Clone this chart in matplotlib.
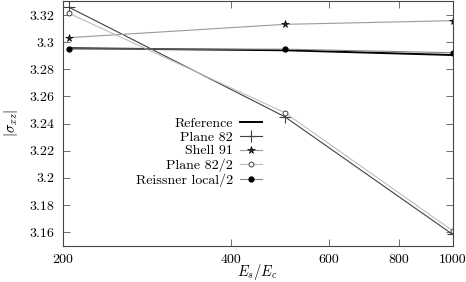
import matplotlib
matplotlib.use("Agg")
import matplotlib.pyplot as plt
from matplotlib.ticker import FixedLocator, FuncFormatter, NullLocator

plt.rcParams['font.family'] = 'serif'
plt.rcParams['font.serif'] = ['cmr10', 'DejaVu Serif']
plt.rcParams['mathtext.fontset'] = 'cm'
plt.rcParams['axes.formatter.use_mathtext'] = True

ratio = [205, 500, 1000]
reference = [3.2955, 3.2940, 3.2905]
plane82 = [3.3257, 3.2450, 3.1583]
shell91 = [3.3033, 3.3131, 3.3158]
plane82_2 = [3.3212, 3.2480, 3.1610]
reissner_2 = [3.2950, 3.2948, 3.2922]

xticks = [200, 400, 600, 800, 1000]
yticks = [3.16, 3.18, 3.20, 3.22, 3.24, 3.26, 3.28, 3.30, 3.32]

fig = plt.figure(figsize=(4.66, 2.82), dpi=100)
ax = fig.add_axes([63/466, 1-245.7/282, (452.7-63)/466, (245.7-1)/282])

ax.plot(ratio, reference, color='black', lw=1.4, label='Reference')
ax.plot(ratio, plane82, color='#404040', lw=0.8, marker='+', ms=9, mew=0.8, label='Plane 82')
ax.plot(ratio, shell91, color='#9a9a9a', lw=0.8, marker='*', ms=5.5, mew=0.5,
        mfc='#333333', mec='black', label='Shell 91')
ax.plot(ratio, plane82_2, color='#bdbdbd', lw=0.8, marker='o', ms=3.5,
        mfc='white', mec='#404040', mew=0.7, label='Plane 82/2')
ax.plot(ratio, reissner_2, color='#888888', lw=0.8, marker='o', ms=3.5,
        mfc='black', mec='black', label='Reissner local/2')

ax.set_xscale('log')
ax.set_xlim(200, 1000)
ax.set_ylim(3.15, 3.3303)
ax.xaxis.set_major_locator(FixedLocator(xticks))
ax.xaxis.set_minor_locator(NullLocator())
ax.xaxis.set_major_formatter(FuncFormatter(lambda v, p: '%d' % v))
ax.yaxis.set_major_locator(FixedLocator(yticks))
ax.yaxis.set_major_formatter(FuncFormatter(lambda v, p: '%g' % round(v, 2)))
ax.tick_params(direction='in', length=5, width=0.6, top=True, right=True,
               labelsize=10, color='#555555')
ax.tick_params(axis='y', pad=6)
ax.tick_params(axis='x', pad=6)
for s in ax.spines.values():
    s.set_linewidth(0.8)
    s.set_color('#444444')

ax.set_xlabel(r'$E_s/E_c$', fontsize=10.5, labelpad=-3)
ax.set_ylabel(r'$|\sigma_{xz}|$', fontsize=10.5, labelpad=7)

ax.legend(loc='upper right', bbox_to_anchor=(262/466, 1-117/282),
          bbox_transform=fig.transFigure, frameon=False, markerfirst=False,
          fontsize=10, handlelength=1.6, handletextpad=0.5, labelspacing=0.08,
          borderpad=0, borderaxespad=0)

fig.savefig('out.png', dpi=100)
